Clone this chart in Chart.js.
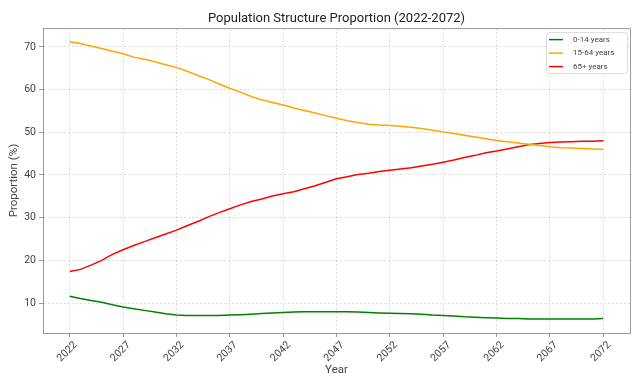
<!DOCTYPE html>
<html><head><meta charset="utf-8">
<script src="https://cdn.jsdelivr.net/npm/chart.js@4/dist/chart.umd.min.js"></script>
<style>html,body{margin:0;padding:0;background:#fff;}#wrap{width:640px;height:380px;}</style>
</head><body><div id="wrap"><canvas id="c" width="640" height="380"></canvas></div>
<script>
const years = [2022,2023,2024,2025,2026,2027,2028,2029,2030,2031,2032,2033,2034,2035,2036,2037,2038,2039,2040,2041,2042,2043,2044,2045,2046,2047,2048,2049,2050,2051,2052,2053,2054,2055,2056,2057,2058,2059,2060,2061,2062,2063,2064,2065,2066,2067,2068,2069,2070,2071,2072];
const age0to14 = [11.6,11.1,10.6,10.2,9.6,9.1,8.7,8.3,7.9,7.5,7.2,7.1,7.1,7.1,7.1,7.2,7.3,7.4,7.55,7.7,7.8,7.9,7.95,7.95,7.95,7.95,7.95,7.9,7.8,7.7,7.6,7.55,7.5,7.4,7.2,7.1,7.0,6.8,6.7,6.6,6.5,6.4,6.4,6.3,6.25,6.25,6.25,6.25,6.25,6.3,6.4];
const age15to64 = [71.2,70.8,70.2,69.6,69.0,68.4,67.6,67.1,66.5,65.8,65.2,64.3,63.3,62.4,61.3,60.3,59.4,58.4,57.6,57.0,56.4,55.7,55.1,54.5,53.9,53.3,52.7,52.3,51.9,51.7,51.6,51.4,51.2,50.9,50.5,50.1,49.7,49.3,48.9,48.5,48.1,47.8,47.5,47.2,46.9,46.6,46.4,46.3,46.2,46.1,46.0];
const age65plus = [17.4,17.9,18.9,20.0,21.4,22.5,23.5,24.4,25.3,26.2,27.1,28.1,29.1,30.2,31.2,32.1,33.0,33.8,34.4,35.1,35.6,36.1,36.8,37.5,38.3,39.1,39.6,40.1,40.4,40.8,41.1,41.4,41.7,42.1,42.5,43.0,43.5,44.1,44.6,45.2,45.6,46.1,46.6,47.1,47.4,47.6,47.7,47.8,47.9,47.9,48.0];
const seriesNames = ['0-14 years','15-64 years','65+ years'];
const xTickValues = [2022,2027,2032,2037,2042,2047,2052,2057,2062,2067,2072];
const yTickValues = [10,20,30,40,50,60,70];

const FONT = 'Roboto, "DejaVu Sans", sans-serif';
const toPts = arr => years.map((y,i)=>({x:y,y:arr[i]}));

const frameLegend = {
  id:'frameLegend',
  afterDatasetsDraw(chart){
    const {ctx, chartArea:a} = chart;
    ctx.save();
    ctx.strokeStyle='#9a9a9a'; ctx.lineWidth=1;
    ctx.beginPath();
    ctx.moveTo(a.left, a.top+0.5); ctx.lineTo(a.right+0.5, a.top+0.5); ctx.lineTo(a.right+0.5, a.bottom);
    ctx.stroke();
    const w=81, h=41, x=a.right-3-w, y=a.top+4;
    ctx.fillStyle='rgba(255,255,255,0.85)';
    ctx.strokeStyle='#dcdcdc';
    ctx.beginPath();
    if (ctx.roundRect) ctx.roundRect(x+0.5,y+0.5,w,h,3); else ctx.rect(x+0.5,y+0.5,w,h);
    ctx.fill(); ctx.stroke();
    ctx.font = '8px '+FONT;
    ctx.textBaseline='middle'; ctx.textAlign='left';
    chart.data.datasets.forEach((ds,i)=>{
      const ry = y+7.5+i*13.5;
      ctx.strokeStyle=ds.borderColor; ctx.lineWidth=1.5;
      ctx.beginPath(); ctx.moveTo(x+3,ry); ctx.lineTo(x+17,ry); ctx.stroke();
      ctx.fillStyle='#444';
      ctx.fillText(ds.label, x+27, ry);
    });
    ctx.restore();
  }
};

new Chart(document.getElementById('c'), {
  type:'line',
  data:{
    datasets:[
      {label:seriesNames[0], data:toPts(age0to14), borderColor:'#008000', backgroundColor:'#008000'},
      {label:seriesNames[1], data:toPts(age15to64), borderColor:'#FFA500', backgroundColor:'#FFA500'},
      {label:seriesNames[2], data:toPts(age65plus), borderColor:'#FF0000', backgroundColor:'#FF0000'}
    ]
  },
  options:{
    responsive:false, animation:false, devicePixelRatio:1,
    layout:{padding:{left:0,right:10,top:0,bottom:0}},
    elements:{point:{radius:0}, line:{borderWidth:1.5, tension:0}},
    plugins:{
      legend:{display:false}, tooltip:{enabled:false},
      title:{display:true, text:'Population Structure Proportion (2022-2072)', fullSize:false,
        color:'#222', font:{family:FONT, size:13, weight:'normal'}, padding:{top:10.5,bottom:2}}
    },
    scales:{
      x:{type:'linear', min:2019.5, max:2074.5,
        afterBuildTicks:s=>{s.ticks = xTickValues.map(v=>({value:v}));},
        afterFit:s=>{s.height=47;},
        ticks:{autoSkip:false, minRotation:45, maxRotation:45, color:'#444', padding:2, labelOffset:6,
          font:{family:FONT,size:10.5}, callback:v=>String(v)},
        grid:{color:'rgba(0,0,0,0.13)', tickColor:'#9a9a9a', tickLength:4, tickBorderDash:[]},
        border:{display:true, color:'#9a9a9a', width:1, dash:[2,2]},
        title:{display:true, text:'Year', color:'#444', font:{family:FONT,size:11.5}, padding:{top:0,bottom:3}}
      },
      y:{type:'linear', min:3.0, max:74.4,
        afterBuildTicks:s=>{s.ticks = yTickValues.map(v=>({value:v}));},
        afterFit:s=>{s.width=43;},
        ticks:{color:'#444', padding:3, font:{family:FONT,size:10.5}, callback:v=>String(v)},
        grid:{color:'rgba(0,0,0,0.13)', tickColor:'#9a9a9a', tickLength:4, tickBorderDash:[]},
        border:{display:true, color:'#9a9a9a', width:1, dash:[2,2]},
        title:{display:true, text:'Proportion (%)', color:'#444', font:{family:FONT,size:11.5}, padding:{top:7,bottom:0}}
      }
    }
  },
  plugins:[frameLegend]
});
</script></body></html>
